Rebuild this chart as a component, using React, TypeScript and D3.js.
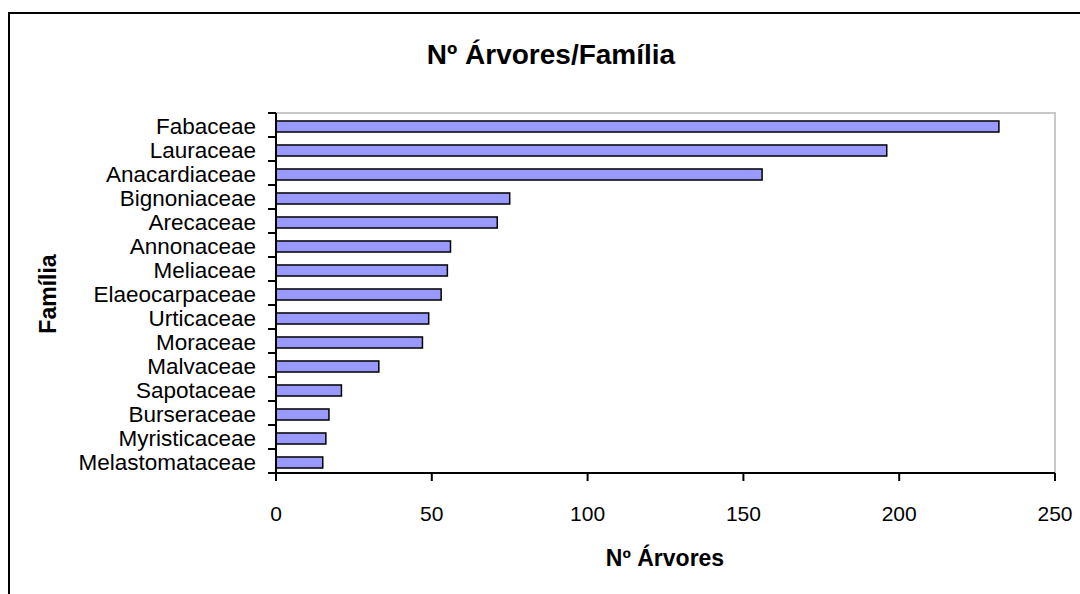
import React, { useEffect, useRef } from "react";
import * as d3 from "d3";

const families = [
  "Fabaceae",
  "Lauraceae",
  "Anacardiaceae",
  "Bignoniaceae",
  "Arecaceae",
  "Annonaceae",
  "Meliaceae",
  "Elaeocarpaceae",
  "Urticaceae",
  "Moraceae",
  "Malvaceae",
  "Sapotaceae",
  "Burseraceae",
  "Myristicaceae",
  "Melastomataceae",
];
const treeCounts = [232, 196, 156, 75, 71, 56, 55, 53, 49, 47, 33, 21, 17, 16, 15];
const xTicks = [0, 50, 100, 150, 200, 250];

const W = 1080;
const H = 594;
const plot = { left: 276, right: 1055, top: 113, bottom: 473 };
const FONT = "'Liberation Sans', Arial, sans-serif";

export default function App() {
  const ref = useRef<SVGSVGElement>(null);

  useEffect(() => {
    const svg = d3.select(ref.current);
    svg.selectAll("*").remove();

    const x = d3.scaleLinear().domain([0, 250]).range([plot.left, plot.right]);
    const y = d3.scaleBand<string>().domain(families).range([plot.top, plot.bottom]).padding(0);
    const step = y.step();
    const barH = step * 0.46;

    // outer chart frame
    svg.append("rect")
      .attr("x", 9).attr("y", 13)
      .attr("width", 1200).attr("height", 800)
      .attr("fill", "white").attr("stroke", "#000").attr("stroke-width", 2);

    // plot area border (light grey top/right)
    svg.append("path")
      .attr("d", `M${plot.left},${plot.top}H${plot.right}V${plot.bottom}`)
      .attr("fill", "none").attr("stroke", "#c8c8c8").attr("stroke-width", 2);

    // bars
    svg.append("g").selectAll("rect")
      .data(families.map((f, i) => ({ f, v: treeCounts[i] })))
      .join("rect")
      .attr("x", x(0))
      .attr("y", (d) => (y(d.f) as number) + (step - barH) / 2 + 1.5)
      .attr("width", (d) => x(d.v) - x(0))
      .attr("height", barH)
      .attr("fill", "#9999ff")
      .attr("stroke", "#000")
      .attr("stroke-width", 1.5);

    // category axis
    const gy = svg.append("g");
    gy.append("line")
      .attr("x1", plot.left).attr("x2", plot.left)
      .attr("y1", plot.top).attr("y2", plot.bottom + 6)
      .attr("stroke", "#000").attr("stroke-width", 2);
    const bounds = families.map((f) => y(f) as number).concat([plot.bottom]);
    gy.selectAll("line.tick")
      .data(bounds)
      .join("line")
      .attr("class", "tick")
      .attr("x1", plot.left - 8).attr("x2", plot.left)
      .attr("y1", (d) => d).attr("y2", (d) => d)
      .attr("stroke", "#000").attr("stroke-width", 2);
    gy.selectAll("text")
      .data(families)
      .join("text")
      .attr("x", 256)
      .attr("y", (d) => (y(d) as number) + step / 2 + 1.5)
      .attr("dy", "0.35em")
      .attr("text-anchor", "end")
      .attr("font-family", FONT)
      .attr("font-size", 22.5)
      .attr("fill", "#000")
      .text((d) => d);

    // value axis
    const gx = svg.append("g");
    gx.append("line")
      .attr("x1", plot.left).attr("x2", plot.right)
      .attr("y1", plot.bottom).attr("y2", plot.bottom)
      .attr("stroke", "#000").attr("stroke-width", 2);
    gx.selectAll("line.tick")
      .data(xTicks)
      .join("line")
      .attr("class", "tick")
      .attr("x1", (d) => x(d)).attr("x2", (d) => x(d))
      .attr("y1", plot.bottom).attr("y2", plot.bottom + 8)
      .attr("stroke", "#000").attr("stroke-width", 2);
    gx.selectAll("text")
      .data(xTicks)
      .join("text")
      .attr("x", (d) => x(d))
      .attr("y", 521)
      .attr("text-anchor", "middle")
      .attr("font-family", FONT)
      .attr("font-size", 21)
      .attr("fill", "#000")
      .text((d) => String(d));

    // titles
    svg.append("text")
      .attr("x", 551).attr("y", 64)
      .attr("text-anchor", "middle")
      .attr("font-family", FONT).attr("font-weight", "bold").attr("font-size", 28)
      .text("Nº Árvores/Família");

    svg.append("text")
      .attr("x", 665).attr("y", 566)
      .attr("text-anchor", "middle")
      .attr("font-family", FONT).attr("font-weight", "bold").attr("font-size", 23)
      .text("Nº Árvores");

    svg.append("text")
      .attr("transform", "translate(56,294) rotate(-90)")
      .attr("text-anchor", "middle")
      .attr("font-family", FONT).attr("font-weight", "bold").attr("font-size", 23)
      .text("Família");
  }, []);

  return (
    <svg
      ref={ref}
      width={W}
      height={H}
      style={{ position: "fixed", left: 0, top: 0, display: "block", background: "#fff" }}
    />
  );
}
